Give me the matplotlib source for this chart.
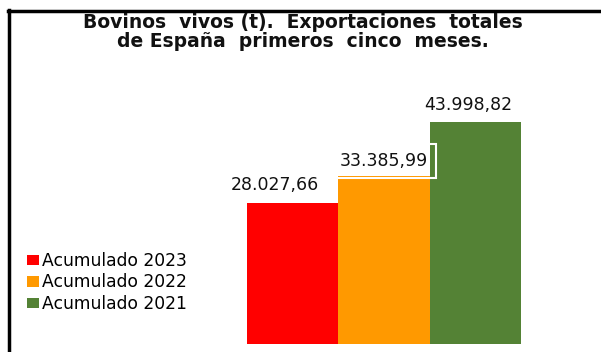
import matplotlib

matplotlib.use("Agg")
import matplotlib.pyplot as plt
from matplotlib.lines import Line2D
from matplotlib.patches import Patch

# data
series = ["Acumulado 2023", "Acumulado 2022", "Acumulado 2021"]
values = [28027.66, 33385.99, 43998.82]
value_labels = ["28.027,66", "33.385,99", "43.998,82"]
colors = ["#ff0000", "#ff9900", "#548235"]
title = "Bovinos  vivos (t).  Exportaciones  totales\nde España  primeros  cinco  meses."

W, H = 601, 352
fig = plt.figure(figsize=(W / 100, H / 100), dpi=100)

# axes placed so bars sit where they do in the reference (pixel coords)
ax = fig.add_axes([247 / W, 8 / H, 274 / W, 222 / H])
x = range(len(values))
ax.bar(x, values, width=1.0, color=colors, edgecolor="none")
ax.set_xlim(-0.5, 2.5)
ax.set_ylim(0, 44000)
ax.axis("off")

# label nudges (points) – the labels sit slightly left of bar centres
label_dx = [-13, 0, -5]
label_dy = [6, 4, 6]
for i, (v, lab) in enumerate(zip(values, value_labels)):
    bbox = None
    if i == 1:
        bbox = dict(boxstyle="square,pad=0.45", facecolor="none", edgecolor="white", linewidth=1.5)
    ax.annotate(lab, (i, v), xytext=(label_dx[i], label_dy[i]), textcoords="offset points",
                ha="center", va="bottom", fontsize=12.5, color="#111111", bbox=bbox)

fig.text(303 / W, 1 - 32 / H, title, ha="center", va="center", fontsize=13.5,
         fontweight="bold", color="#111111", linespacing=1.0)

# chart frame (left and top edges only, the rest is cropped)
fig.add_artist(Line2D([9 / W, 9 / W], [0, 1 - 10 / H], color="black", lw=2.5,
                      transform=fig.transFigure))
fig.add_artist(Line2D([8 / W, 1], [1 - 11 / H, 1 - 11 / H], color="black", lw=2.5,
                      transform=fig.transFigure))

handles = [Patch(facecolor=c, edgecolor="none") for c in colors]
fig.legend(handles, series, loc="upper left", bbox_to_anchor=(27 / W, 1 - 252 / H),
           frameon=False, fontsize=12.3, handlelength=0.7, handleheight=0.55,
           handletextpad=0.2, labelspacing=0.2, borderaxespad=0, borderpad=0)

fig.savefig("out.png", dpi=100)
